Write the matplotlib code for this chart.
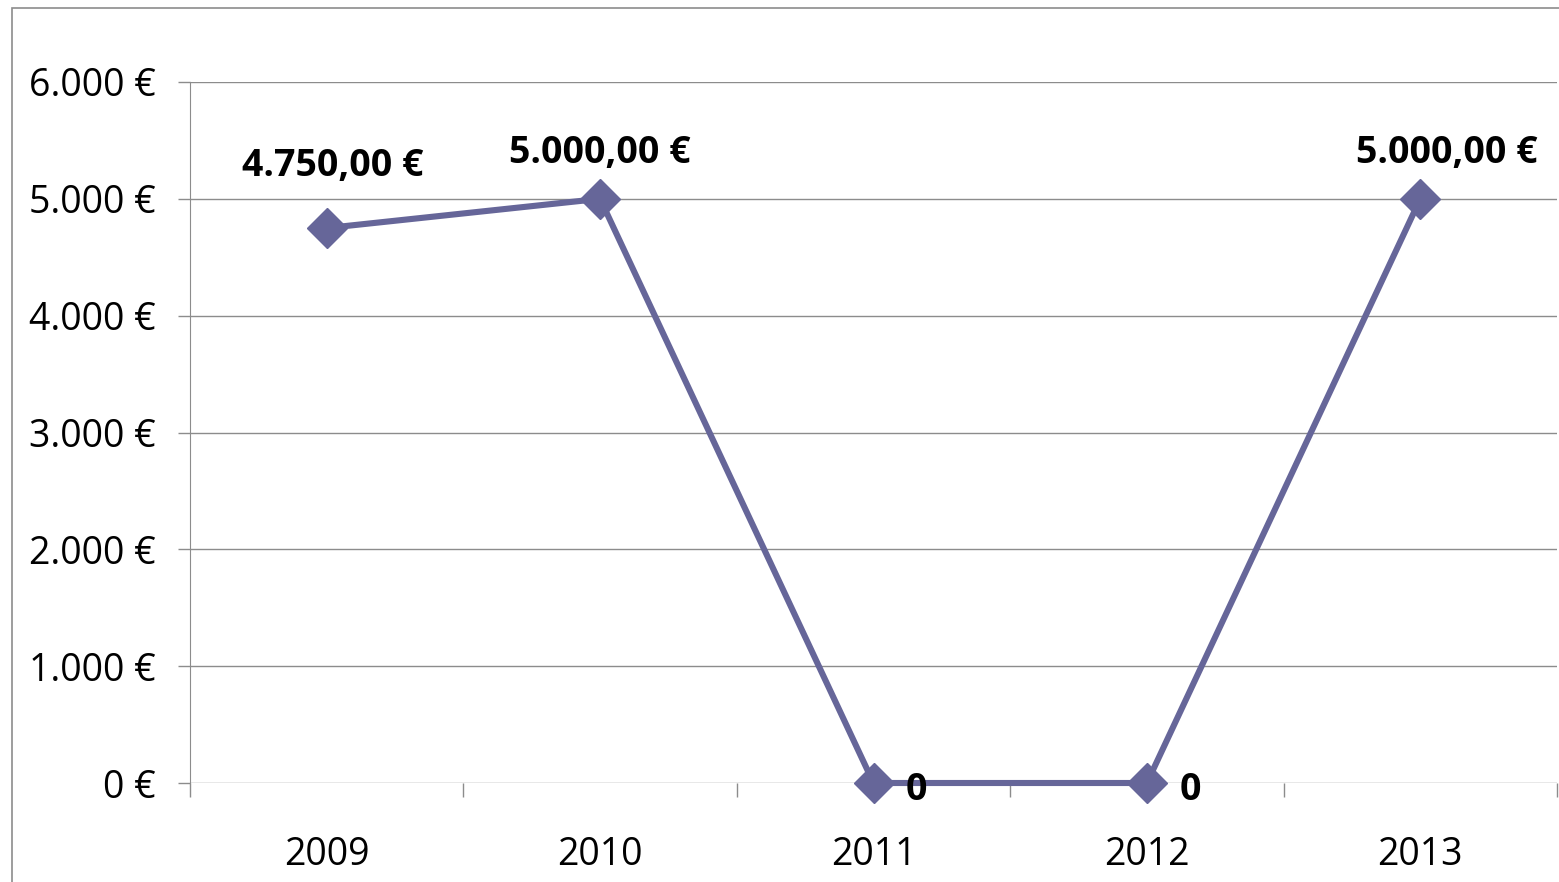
import matplotlib.pyplot as plt
from matplotlib.patches import Rectangle
from matplotlib.ticker import FixedLocator
from matplotlib.transforms import ScaledTranslation

years = ["2009", "2010", "2011", "2012", "2013"]
values = [4750, 5000, 0, 0, 5000]
labels = ["4.750,00 €", "5.000,00 €", "0", "0", "5.000,00 €"]
yticks = [0, 1000, 2000, 3000, 4000, 5000, 6000]
ytick_labels = ["0 €", "1.000 €", "2.000 €", "3.000 €", "4.000 €", "5.000 €", "6.000 €"]

plt.rcParams['font.family'] = ['Open Sans', 'DejaVu Sans']

fig = plt.figure(figsize=(15.59, 8.82), dpi=100)
ax = fig.add_axes([190 / 1559, 1 - 783 / 882, 1367 / 1559, 701 / 882])

# chart border (only left and top are visible in the crop)
fig.patches.append(Rectangle((12 / 1559, -0.5), 2, 0.5 + 1 - 8 / 882, transform=fig.transFigure,
                             fill=False, edgecolor='#8c8c8c', linewidth=1.2))

x = list(range(len(years)))
ax.plot(x, values, color='#666699', linewidth=4.4, marker='D', markersize=20, zorder=3, clip_on=False)

ax.set_xlim(-0.5, len(years) - 0.5)
ax.set_ylim(0, 6000)

ax.set_yticks(yticks)
ax.set_yticklabels(ytick_labels, fontsize=27)
shift = ScaledTranslation(0, -4 / 72, fig.dpi_scale_trans)
for t in ax.get_yticklabels():
    t.set_transform(t.get_transform() + shift)
ax.set_xticks(x)
ax.set_xticklabels(years, fontsize=27)
ax.xaxis.set_minor_locator(FixedLocator([i - 0.5 for i in range(len(years) + 1)]))

ax.tick_params(axis='y', length=9, width=1, color='#8c8c8c', pad=16)
ax.tick_params(axis='x', which='major', length=0, pad=38)
ax.tick_params(axis='x', which='minor', length=10, width=1, color='#8c8c8c')

ax.grid(axis='y', color='#8c8c8c', linewidth=1)
ax.set_axisbelow(True)
for s in ['top', 'right', 'bottom']:
    ax.spines[s].set_visible(False)
ax.spines['left'].set_color('#8c8c8c')

offsets = [(4, 45), (0, 33), (31, -5), (31, -5), (19, 33)]
for i, (v, lab) in enumerate(zip(values, labels)):
    ax.annotate(lab, (i, v), xytext=offsets[i], textcoords='offset points',
                ha='center', va='center', fontsize=27, fontweight='bold')

fig.savefig('out.png', dpi=100)
